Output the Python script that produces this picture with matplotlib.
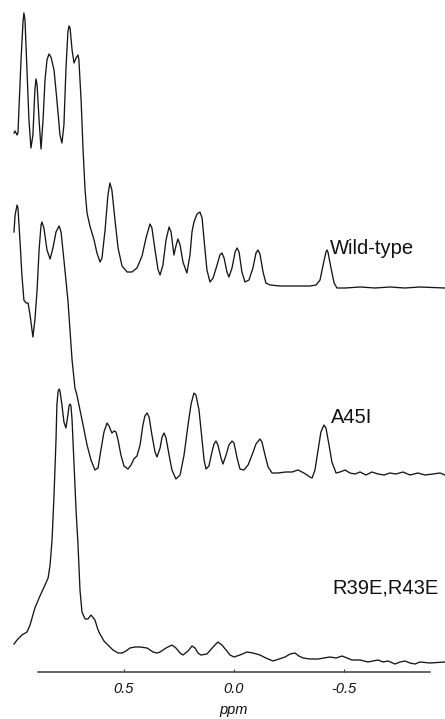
import matplotlib
matplotlib.use("Agg")
import matplotlib.pyplot as plt
import numpy as np

plt.rcParams['font.family'] = ['Liberation Sans', 'DejaVu Sans']
plt.rcParams['axes.unicode_minus'] = False

# spectra: chemical shift (ppm) and intensity above each baseline
wt_ppm = [1.000, 0.995, 0.986, 0.982, 0.968, 0.959, 0.955, 0.950, 0.941, 0.932,
          0.923, 0.914, 0.905, 0.900, 0.895, 0.886, 0.877, 0.868, 0.859, 0.850,
          0.841, 0.832, 0.818, 0.805, 0.791, 0.782, 0.773, 0.764, 0.755, 0.750,
          0.745, 0.736, 0.727, 0.718, 0.709, 0.705, 0.695, 0.686, 0.677, 0.668,
          0.655, 0.636, 0.623, 0.609, 0.600, 0.586, 0.573, 0.564, 0.555, 0.541,
          0.527, 0.509, 0.486, 0.464, 0.441, 0.418, 0.400, 0.382, 0.373, 0.359,
          0.345, 0.336, 0.323, 0.309, 0.295, 0.286, 0.273, 0.264, 0.255, 0.245,
          0.232, 0.214, 0.200, 0.191, 0.182, 0.168, 0.155, 0.145, 0.136, 0.123,
          0.109, 0.095, 0.077, 0.064, 0.055, 0.045, 0.032, 0.023, 0.009, -0.005,
          -0.014, -0.023, -0.036, -0.050, -0.068, -0.086, -0.100, -0.109, -0.118, -0.132,
          -0.145, -0.164, -0.209, -0.277, -0.345, -0.373, -0.391, -0.405, -0.418, -0.423,
          -0.427, -0.441, -0.455, -0.468, -0.505, -0.573, -0.641, -0.709, -0.777, -0.845,
          -0.959]
wt_int = [154, 156, 152, 154, 227, 265, 274, 267, 217, 167,
          139, 152, 197, 208, 202, 167, 138, 167, 207, 227,
          233, 230, 217, 187, 152, 144, 162, 217, 255, 261,
          259, 237, 224, 229, 232, 227, 187, 137, 97, 74,
          61, 47, 34, 25, 29, 57, 92, 104, 97, 67,
          39, 21, 15, 15, 19, 31, 49, 63, 59, 37,
          17, 12, 22, 47, 60, 55, 32, 41, 48, 42,
          25, 14, 32, 55, 65, 73, 75, 69, 47, 17,
          5, 9, 22, 32, 34, 29, 15, 10, 19, 35,
          39, 35, 15, 5, 7, 19, 34, 37, 33, 15,
          4, 2, 1, 1, 1, 2, 7, 22, 35, 37,
          35, 19, 4, -1, -1, 0, -1, 0, -1, 0,
          -1]

a45i_ppm = [1.000, 0.995, 0.986, 0.982, 0.973, 0.964, 0.955, 0.945, 0.936, 0.927,
            0.914, 0.905, 0.895, 0.886, 0.877, 0.873, 0.864, 0.850, 0.836, 0.823,
            0.809, 0.795, 0.786, 0.773, 0.755, 0.736, 0.723, 0.714, 0.700, 0.686,
            0.668, 0.650, 0.632, 0.618, 0.605, 0.591, 0.577, 0.568, 0.555, 0.545,
            0.536, 0.527, 0.514, 0.500, 0.482, 0.468, 0.455, 0.441, 0.427, 0.414,
            0.405, 0.395, 0.386, 0.373, 0.359, 0.350, 0.336, 0.327, 0.318, 0.309,
            0.295, 0.282, 0.264, 0.245, 0.227, 0.209, 0.195, 0.182, 0.173, 0.159,
            0.145, 0.136, 0.127, 0.114, 0.100, 0.091, 0.082, 0.073, 0.059, 0.050,
            0.036, 0.023, 0.009, 0.000, -0.014, -0.027, -0.045, -0.064, -0.082, -0.100,
            -0.118, -0.127, -0.141, -0.155, -0.173, -0.200, -0.236, -0.264, -0.291, -0.318,
            -0.345, -0.355, -0.368, -0.382, -0.395, -0.409, -0.418, -0.432, -0.445, -0.464,
            -0.482, -0.505, -0.527, -0.550, -0.573, -0.600, -0.627, -0.655, -0.682, -0.709,
            -0.736, -0.768, -0.800, -0.836, -0.868, -0.905, -0.936, -0.959]
a45i_int = [242, 259, 269, 266, 234, 199, 174, 171, 171, 159,
            137, 154, 184, 224, 249, 252, 246, 224, 215, 226,
            242, 248, 242, 214, 174, 114, 86, 79, 64, 49,
            29, 14, 4, 6, 24, 42, 51, 48, 41, 43,
            42, 34, 19, 8, 5, 9, 15, 18, 29, 49,
            58, 61, 57, 39, 22, 17, 26, 37, 41, 36,
            19, 4, -5, -1, 19, 49, 70, 81, 79, 64,
            34, 14, 5, 8, 22, 30, 33, 29, 16, 10,
            19, 29, 33, 31, 16, 5, 4, 9, 19, 30,
            35, 32, 19, 7, 1, 1, 2, 2, 4, 1,
            -3, -4, 4, 24, 42, 49, 46, 29, 12, 1,
            2, 4, 1, 0, 2, -1, 2, 0, -1, 1,
            0, 2, -1, 1, -1, 0, 1, -1]

r39e_ppm = [1.000, 0.986, 0.964, 0.941, 0.927, 0.905, 0.882, 0.859, 0.845, 0.836,
            0.827, 0.818, 0.809, 0.805, 0.800, 0.795, 0.791, 0.782, 0.773, 0.764,
            0.755, 0.750, 0.745, 0.741, 0.736, 0.727, 0.718, 0.709, 0.700, 0.691,
            0.677, 0.664, 0.650, 0.632, 0.618, 0.609, 0.591, 0.573, 0.550, 0.527,
            0.509, 0.491, 0.473, 0.450, 0.427, 0.395, 0.368, 0.350, 0.336, 0.309,
            0.282, 0.264, 0.245, 0.232, 0.209, 0.191, 0.177, 0.164, 0.150, 0.123,
            0.095, 0.073, 0.055, 0.036, 0.018, 0.000, -0.027, -0.059, -0.086, -0.118,
            -0.145, -0.177, -0.205, -0.232, -0.255, -0.277, -0.295, -0.314, -0.345, -0.382,
            -0.409, -0.436, -0.464, -0.491, -0.514, -0.536, -0.573, -0.609, -0.632, -0.655,
            -0.677, -0.700, -0.732, -0.755, -0.777, -0.800, -0.823, -0.845, -0.891, -0.959]
r39e_int = [17, 21, 26, 29, 36, 53, 65, 76, 83, 96,
            121, 166, 221, 256, 269, 272, 270, 256, 239, 233,
            246, 255, 257, 255, 241, 196, 151, 116, 71, 49,
            42, 42, 46, 41, 31, 27, 20, 16, 11, 8,
            8, 10, 13, 14, 14, 13, 9, 8, 9, 13,
            16, 13, 8, 6, 10, 15, 13, 8, 6, 7,
            14, 19, 16, 11, 6, 4, 6, 9, 8, 6,
            3, 0, 2, 4, 7, 8, 5, 3, 2, 2,
            3, 4, 3, 5, 3, 1, 1, -1, 0, 1,
            -1, 0, -3, -1, 0, -2, -3, -1, -2, -1]

names = ["Wild-type", "A45I", "R39E,R43E"]
tick_vals = [0.5, 0.0, -0.5]

# vertical stacking and label placement (layout only)
offsets = [385, 198, 11]
label_xy = [(330, 254), (331, 423), (332, 593)]

W, H = 445, 719
fig = plt.figure(figsize=(W / 100, H / 100), dpi=100)
ax = fig.add_axes([0, 47 / H, 1, 672 / H])
ax.set_xlim(1.0636, -0.9591)
ax.set_ylim(0, 672)

spectra = [(wt_ppm, wt_int), (a45i_ppm, a45i_int), (r39e_ppm, r39e_int)]
for (ppm, inten), off in zip(spectra, offsets):
    ax.plot(ppm, np.asarray(inten) + off, color="#161616", lw=0.95,
            solid_joinstyle="round", clip_on=False)

for name, (px, py) in zip(names, label_xy):
    fig.text(px / W, 1 - py / H, name, fontsize=14.5, va="baseline", ha="left",
             color="#111111")

for s in ["top", "left", "right"]:
    ax.spines[s].set_visible(False)
ax.spines["bottom"].set_bounds(0.89, -0.89)
ax.spines["bottom"].set_linewidth(1.1)
ax.spines["bottom"].set_color("#3a3a3a")
ax.set_yticks([])
ax.set_xticks(tick_vals)
ax.set_xticklabels([f"{v:.1f}" for v in tick_vals], fontstyle="italic", fontsize=10.5)
ax.tick_params(axis="x", which="major", direction="in", length=2, width=0.8,
               pad=7, colors="#3a3a3a", labelcolor="#111111")

fig.text(234 / W, 1 - 714 / H, "ppm", fontsize=10.5, fontstyle="italic",
         ha="center", va="baseline", color="#111111")

fig.savefig("out.png", dpi=100)
